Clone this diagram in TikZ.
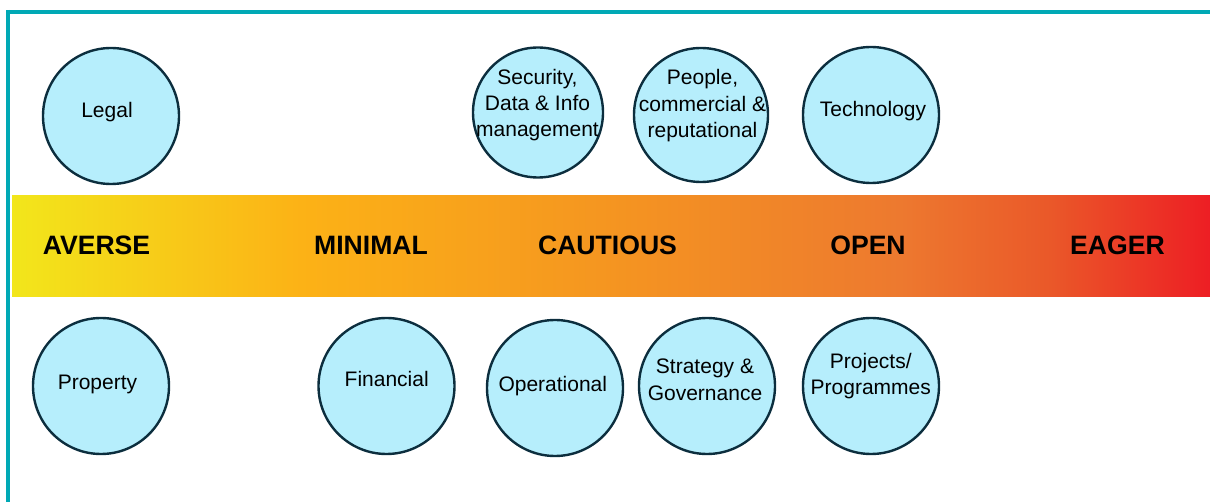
\documentclass[tikz,border=0pt]{standalone}
\usepackage{fontspec}
\setmainfont{Liberation Sans}
\begin{document}
\definecolor{frameteal}{RGB}{0,169,181}
\definecolor{ringline}{RGB}{12,46,62}
\definecolor{ringfill}{RGB}{182,238,252}
\definecolor{gA}{RGB}{242,230,27}
\definecolor{gB}{RGB}{252,178,22}
\definecolor{gC}{RGB}{245,150,32}
\definecolor{gD}{RGB}{237,121,47}
\definecolor{gE}{RGB}{234,88,41}
\definecolor{gF}{RGB}{237,30,36}
\begin{tikzpicture}[x=1pt,y=-1pt,
  risk/.style={circle,draw=ringline,fill=ringfill,line width=2.4pt,minimum size=#1,inner sep=0pt},
  risk/.default=136pt,
  rtext/.style={anchor=base,align=center,font=\fontsize{21}{26.3}\selectfont,text=black,inner sep=0pt},
  level/.style={font=\fontsize{26.6}{30}\selectfont\bfseries,text=black,inner sep=0pt}]
\useasboundingbox (0,0) rectangle (1210,502);
% outer frame (top and left edges only)
\draw[frameteal,line width=4pt] (6,12) -- (1210,12);
\draw[frameteal,line width=4pt] (8,10) -- (8,502);
% appetite scale band
\shade[left color=gA,right color=gB] (12,196) rectangle (300.5,297);
\shade[left color=gB,right color=gC] (300,196) rectangle (600.5,297);
\shade[left color=gC,right color=gD] (600,196) rectangle (900.5,297);
\shade[left color=gD,right color=gE] (900,196) rectangle (1050.5,297);
\shade[left color=gE,right color=gF] (1050,196) rectangle (1210,297);
% level labels
\node[level] (averse) at (96.5,245.5) {AVERSE};
\node[level] (minimal) at (371,245.5) {MINIMAL};
\node[level] (cautious) at (607.5,245.5) {CAUTIOUS};
\node[level] (open) at (868,245.5) {OPEN};
\node[level] (eager) at (1117.5,245.5) {EAGER};
% risk areas above the scale
\node[risk] (legal) at (111,116) {};
\node[risk=130pt] (security) at (538,112.5) {};
\node[risk=134pt] (people) at (701,115) {};
\node[risk] (technology) at (871,115) {};
% text anchored on the baseline of its last line
\node[rtext] (legalT) at (107,117.5) {Legal};
\node[rtext] (securityT) at (537.5,137) {Security,\\Data \& Info\\management};
\node[rtext] (peopleT) at (702.5,137.5) {People,\\commercial \&\\reputational};
\node[rtext] (technologyT) at (873,117) {Technology};
% risk areas below the scale
\node[risk] (property) at (101,386) {};
\node[risk] (financial) at (386.5,386) {};
\node[risk] (operational) at (555,388) {};
\node[risk] (strategy) at (707,386) {};
\node[risk] (projects) at (871,386) {};
\node[rtext] (propertyT) at (97.5,389) {Property};
\node[rtext] (financialT) at (386.7,387) {Financial};
\node[rtext] (operationalT) at (552.8,391.7) {Operational};
\node[rtext] (strategyT) at (705,400) {Strategy \&\\Governance};
\node[rtext] (projectsT) at (870.8,395) {Projects/\\Programmes};
\end{tikzpicture}
\end{document}
